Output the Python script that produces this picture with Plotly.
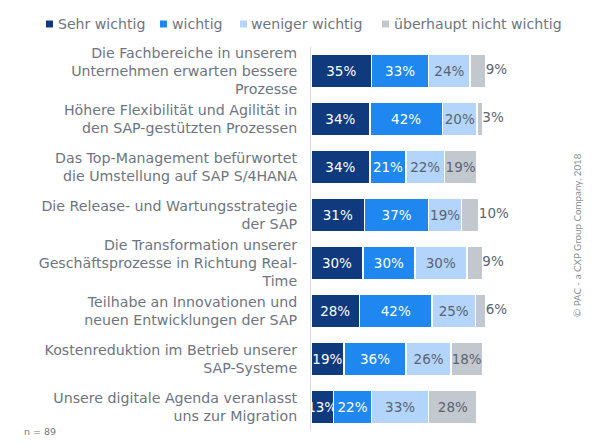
import plotly.graph_objects as go

categories = [
    "Die Fachbereiche in unserem<br>Unternehmen erwarten bessere<br>Prozesse",
    "Höhere Flexibilität und Agilität in<br>den SAP-gestützten Prozessen",
    "Das Top-Management befürwortet<br>die Umstellung auf SAP S/4HANA",
    "Die Release- und Wartungsstrategie<br>der SAP",
    "Die Transformation unserer<br>Geschäftsprozesse in Richtung Real-<br>Time",
    "Teilhabe an Innovationen und<br>neuen Entwicklungen der SAP",
    "Kostenreduktion im Betrieb unserer<br>SAP-Systeme",
    "Unsere digitale Agenda veranlasst<br>uns zur Migration",
]
sehr_wichtig = [35, 34, 34, 31, 30, 28, 19, 13]
wichtig = [33, 42, 21, 37, 30, 42, 36, 22]
weniger_wichtig = [24, 20, 22, 19, 30, 25, 26, 33]
ueberhaupt_nicht = [9, 3, 19, 10, 9, 6, 18, 28]
outside_label = [True, True, False, True, True, True, False, False]

W, H = 600, 446
FONT = "DejaVu Sans"
GREY = "#6e7580"
DARK = "#5a6470"


def px(x):
    return x / W


def py(y):
    return 1 - y / H


series = [
    ("Sehr wichtig", sehr_wichtig, "#0f3a7d", "white", 46, 56),
    ("wichtig", wichtig, "#1e87f0", "white", 160, 170),
    ("weniger wichtig", weniger_wichtig, "#b3d4fb", DARK, 240, 249),
    ("überhaupt nicht wichtig", ueberhaupt_nicht, "#c3c8cf", DARK, 382, 392),
]

fig = go.Figure()
shapes, annotations = [], []
for name, vals, color, tcolor, swatch_x, text_x in series:
    is_last = name.startswith("überhaupt")
    labels = [
        "" if (is_last and outside) else f"{v}%"
        for v, outside in zip(vals, outside_label)
    ]
    fig.add_trace(go.Bar(
        name=name, y=categories, x=vals, orientation="h",
        marker=dict(color=color, line=dict(color="white", width=1.5)),
        text=labels, textposition="inside", insidetextanchor="middle",
        constraintext="none", textangle=0,
        insidetextfont=dict(family=FONT, size=13.5, color=tcolor),
        hoverinfo="skip", showlegend=False,
    ))
    shapes.append(dict(type="rect", xref="paper", yref="paper",
                       x0=px(swatch_x), x1=px(swatch_x + 7), y0=py(27.5), y1=py(20.5),
                       fillcolor=color, line=dict(width=0)))
    annotations.append(dict(text=name, xref="paper", yref="paper",
                            x=px(text_x), y=py(24), xanchor="left", yanchor="middle",
                            showarrow=False,
                            font=dict(family=FONT, size=14.1, color=GREY)))

totals = [a + b + c + d for a, b, c, d in zip(sehr_wichtig, wichtig, weniger_wichtig, ueberhaupt_nicht)]
out_x = [t for t, o in zip(totals, outside_label) if o]
out_y = [c for c, o in zip(categories, outside_label) if o]
out_t = [f"{v}%" for v, o in zip(ueberhaupt_nicht, outside_label) if o]
fig.add_trace(go.Scatter(
    x=out_x, y=out_y, text=out_t, mode="text", textposition="middle right",
    textfont=dict(family=FONT, size=13.5, color=DARK),
    showlegend=False, hoverinfo="skip", cliponaxis=False,
))

annotations += [
    dict(text="n = 89", xref="paper", yref="paper", x=px(22), xanchor="left",
         y=py(431), yanchor="middle", showarrow=False,
         font=dict(family=FONT, size=9.5, color=GREY)),
    dict(text="© PAC - a CXP Group Company, 2018", xref="paper", yref="paper",
         x=px(577), y=py(235), xanchor="center", yanchor="middle", textangle=-90,
         showarrow=False, font=dict(family="Lato", size=9.8, color="#8a8f96")),
]

fig.update_layout(
    width=W, height=H, barmode="stack", bargap=0.31,
    paper_bgcolor="white", plot_bgcolor="white",
    margin=dict(l=0, r=0, t=0, b=0),
    font=dict(family=FONT, color=GREY),
    showlegend=False,
    xaxis=dict(range=[0, 167], visible=False, fixedrange=True, domain=[px(311), 1]),
    yaxis=dict(
        autorange="reversed", showgrid=False, showline=True,
        linecolor="#d5dce6", linewidth=1, ticks="", ticklabelstandoff=10,
        tickfont=dict(family=FONT, size=14.2, color=GREY),
        domain=[py(431), py(47)], automargin=False,
    ),
    shapes=shapes,
    annotations=annotations,
)
fig.write_html("out.html", config={"displayModeBar": False},
               post_script="document.body.style.margin='0';")
